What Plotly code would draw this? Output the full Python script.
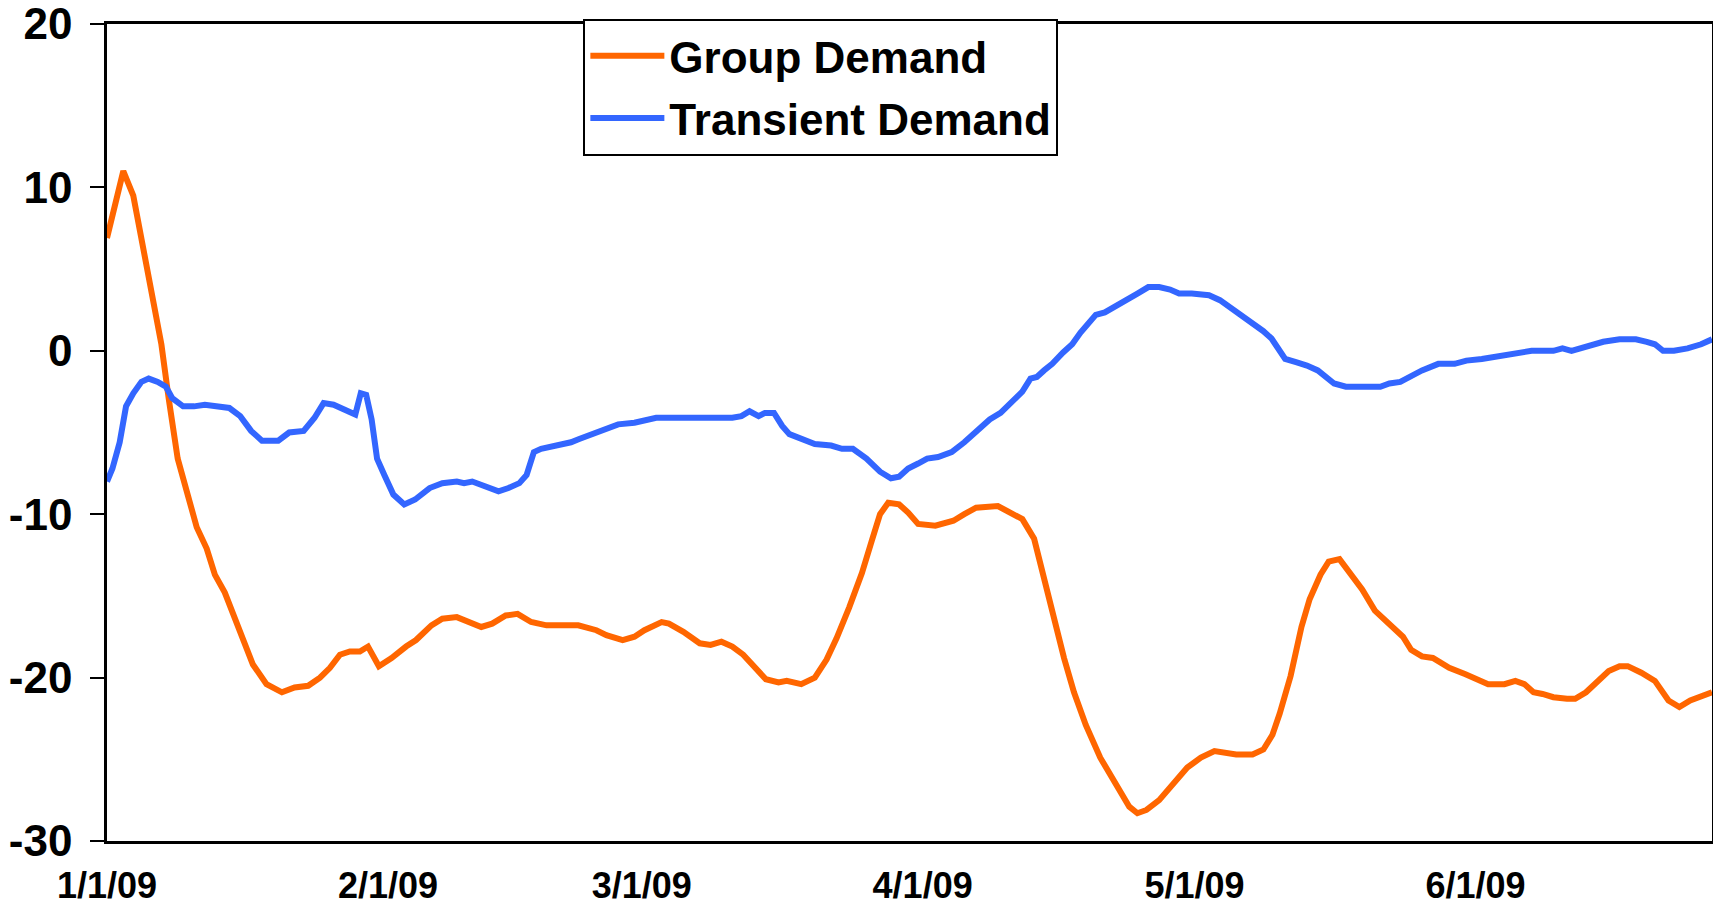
import pandas as pd
import plotly.graph_objects as go

# ---- data (day offsets from 1/1/09) ----
start = pd.Timestamp("2009-01-01")

group_days = [0, 1, 1.8, 2.9, 3.8, 4.9, 6, 6.8, 7.8, 8.9, 9.9, 11, 11.9, 13, 14, 15, 16.1, 17.6, 19.3,
              20.7, 22.2, 23.5, 24.6, 25.7, 26.8, 27.9, 28.8, 30, 31.4, 33, 34.1, 35.8, 37, 38.6, 40.2,
              41.3, 42.5, 44, 45.3, 46.8, 48.5, 52, 54, 55.1, 56.9, 58.2, 59.3, 61.2, 62, 63.6, 65.4,
              66.6, 67.8, 69, 70.2, 72.7, 74.1, 75, 76.6, 78.1, 79.4, 80.5, 81.9, 83.3, 84.4, 85.3,
              86.2, 87.4, 88.4, 89.5, 91.4, 93.4, 94.6, 95.9, 98.3, 99.8, 101, 102.3, 103.4, 104.4,
              105.6, 106.7, 108, 109.6, 111.3, 112.8, 113.7, 114.7, 116.1, 117.7, 119.2, 120.7, 122.2,
              124.6, 126.4, 127.6, 128.6, 129.4, 130.6, 131.8, 132.7, 133.9, 134.8, 136, 137, 138.5,
              139.9, 141.5, 143, 143.9, 145.1, 146.3, 148.1, 149.9, 151.1, 152.4, 154.2, 155.4, 156.4,
              157.4, 158.4, 159.6, 161.1, 162, 163.2, 164.5, 165.7, 166.9, 167.8, 169.3, 170.8, 172.3,
              173.5, 174.7, 177.1]
group_vals = [6.9, 9.1, 11.0, 9.5, 6.8, 3.95, 0.4, -2.9, -6.6, -8.8, -10.8, -12.1, -13.7, -14.8, -16.2,
              -17.8, -19.2, -20.4, -20.9, -20.6, -20.5, -20.0, -19.4, -18.6, -18.4, -18.4, -18.1, -19.3,
              -18.8, -18.1, -17.7, -16.8, -16.4, -16.3, -16.7, -16.9, -16.7, -16.2, -16.1, -16.6, -16.8,
              -16.8, -17.1, -17.4, -17.7, -17.5, -17.1, -16.6, -16.7, -17.2, -17.9, -18.0, -17.8, -18.1,
              -18.6, -20.1, -20.3, -20.2, -20.4, -20.0, -18.9, -17.6, -15.7, -13.6, -11.6, -10.0, -9.3,
              -9.4, -9.9, -10.6, -10.7, -10.4, -10.0, -9.6, -9.5, -9.9, -10.3, -11.5, -14.0, -16.2,
              -18.8, -20.9, -22.9, -24.9, -26.5, -27.9, -28.3, -28.1, -27.5, -26.4, -25.5, -24.9, -24.5,
              -24.7, -24.7, -24.4, -23.5, -22.2, -19.9, -16.9, -15.2, -13.7, -12.9, -12.75, -13.5, -14.6,
              -15.9, -16.7, -17.5, -18.3, -18.7, -18.8, -19.4, -19.8, -20.1, -20.4, -20.4, -20.2, -20.4,
              -20.9, -21.0, -21.2, -21.3, -21.3, -20.9, -20.2, -19.6, -19.3, -19.3, -19.7, -20.2, -21.4,
              -21.8, -21.4, -20.9]

transient_days = [0, 0.6, 1.4, 2.1, 2.9, 3.8, 4.6, 5.6, 6.5, 7.2, 8.4, 9.6, 10.8, 12.3, 13.5, 14.7, 15.9,
                  17.1, 18.9, 20.1, 21.7, 22.9, 23.9, 25, 26.1, 27.4, 28, 28.6, 29.2, 29.8, 30.6, 31.6,
                  32.8, 34, 35.6, 37, 38.6, 39.4, 40.3, 41.8, 43.2, 44.3, 45.5, 46.3, 47.1, 47.9, 49.7,
                  51.2, 52.1, 53.9, 55.1, 56.4, 58.2, 60.6, 63, 66.6, 69, 70, 70.9, 71.9, 72.6, 73.6,
                  74.5, 75.3, 76.9, 78.1, 79.9, 81.1, 82.3, 83.8, 85.3, 86.5, 87.4, 88.4, 89.5, 90.5,
                  91.7, 93.2, 94.6, 96.2, 97.4, 98.6, 99.8, 101, 101.9, 102.6, 103.4, 104.3, 105.5,
                  106.5, 107.4, 108.3, 109.1, 110.1, 111.3, 112.5, 113.7, 114.9, 116.1, 117.3, 118.3,
                  119.7, 121.6, 122.8, 124.6, 126.4, 127.6, 128.5, 129.4, 130, 131.2, 132.4, 133.6,
                  134.5, 135.4, 136.7, 138.5, 140.5, 141.5, 142.7, 145.1, 146.9, 148.7, 150, 151.7,
                  153.6, 155.4, 157.2, 159.6, 160.6, 161.6, 162.6, 163.8, 165.1, 166.9, 168.7, 169.9,
                  170.8, 171.7, 172.9, 174.4, 175.9, 177.1]
transient_vals = [-8.0, -7.2, -5.6, -3.4, -2.6, -1.9, -1.7, -1.9, -2.2, -2.9, -3.4, -3.4, -3.3, -3.4,
                  -3.5, -4.0, -4.9, -5.5, -5.5, -5.0, -4.9, -4.1, -3.2, -3.3, -3.6, -3.9, -2.6, -2.7,
                  -4.2, -6.6, -7.6, -8.8, -9.4, -9.1, -8.4, -8.1, -8.0, -8.1, -8.0, -8.3, -8.6, -8.4,
                  -8.1, -7.6, -6.2, -6.0, -5.8, -5.6, -5.4, -5.0, -4.8, -4.5, -4.4, -4.1, -4.1, -4.1,
                  -4.1, -4.0, -3.7, -4.0, -3.8, -3.8, -4.6, -5.1, -5.4, -5.7, -5.8, -6.0, -6.0, -6.6,
                  -7.4, -7.8, -7.7, -7.2, -6.9, -6.6, -6.5, -6.2, -5.6, -4.8, -4.2, -3.8, -3.2, -2.5,
                  -1.7, -1.6, -1.2, -0.8, -0.1, 0.4, 1.1, 1.75, 2.2, 2.35, 2.7, 3.15, 3.5, 3.9, 3.9,
                  3.75, 3.5, 3.5, 3.4, 3.1, 2.4, 1.6, 1.2, 0.75, -0.1, -0.5, -0.7, -0.9, -1.2, -1.6,
                  -2.0, -2.2, -2.2, -2.2, -2.0, -1.9, -1.2, -0.8, -0.8, -0.6, -0.5, -0.3, -0.2, 0.0,
                  0.0, 0.15, 0.0, 0.15, 0.4, 0.55, 0.7, 0.7, 0.55, 0.4, 0.0, 0.0, 0.15, 0.4, 0.7]

tick_dates = ["2009-01-01", "2009-02-01", "2009-03-01", "2009-04-01", "2009-05-01", "2009-06-01"]
tick_labels = ["1/1/09", "2/1/09", "3/1/09", "4/1/09", "5/1/09", "6/1/09"]
y_ticks = [-30, -20, -10, 0, 10, 20]
y_tick_labels = ["-30", "-20", "-10", "0", "10", "20"]

# ---- build ----
def to_dates(days):
    return [start + pd.Timedelta(days=d) for d in days]

x_range = [start, start + pd.Timedelta(days=177.1)]

FONT = "Liberation Sans, Arial, sans-serif"

fig = go.Figure()
fig.add_trace(go.Scatter(x=to_dates(group_days), y=group_vals, mode="lines",
                         name="Group Demand", legendgroup="g",
                         line=dict(color="#FF6600", width=6)))
fig.add_trace(go.Scatter(x=to_dates(transient_days), y=transient_vals, mode="lines",
                         name="Transient Demand", legendgroup="t",
                         line=dict(color="#3366FF", width=6)))

fig.update_layout(
    width=1705, height=898,
    margin=dict(l=99, r=1, t=16, b=65, autoexpand=False),
    paper_bgcolor="white", plot_bgcolor="white",
    font=dict(family=FONT, color="black"),
    showlegend=True,
    legend=dict(x=0.2968, y=1.0065, xanchor="left", yanchor="top",
                bgcolor="white", bordercolor="black", borderwidth=2,
                font=dict(size=44, family=FONT, weight="bold"),
                traceorder="grouped", tracegroupgap=2, itemwidth=74),
    xaxis=dict(type="date", range=x_range, tickvals=tick_dates, ticktext=tick_labels,
               automargin=False,
               showgrid=False, zeroline=False, showline=True, linecolor="black", linewidth=2.5,
               mirror=True, ticks="", ticklabelstandoff=11,
               tickfont=dict(size=36, family=FONT, weight="bold", color="black")),
    xaxis2=dict(type="date", range=x_range, overlaying="x", anchor="free", position=0.6,
                automargin=False,
                tickvals=tick_dates, showticklabels=False, showgrid=False, zeroline=False,
                showline=True, linecolor="black", linewidth=2.5,
                ticks="outside", ticklen=12, tickwidth=2, tickcolor="black"),
    yaxis=dict(range=[-30, 20], tickvals=y_ticks, ticktext=y_tick_labels,
               showgrid=False, zeroline=False, automargin=False,
               showline=True, linecolor="black", linewidth=2.5, mirror=True,
               ticks="outside", ticklen=14, tickwidth=2, tickcolor="black",
               ticklabelstandoff=9, ticklabeloverflow="allow",
               tickfont=dict(size=44, family=FONT, weight="bold", color="black")),
)

fig.write_html("out.html")
